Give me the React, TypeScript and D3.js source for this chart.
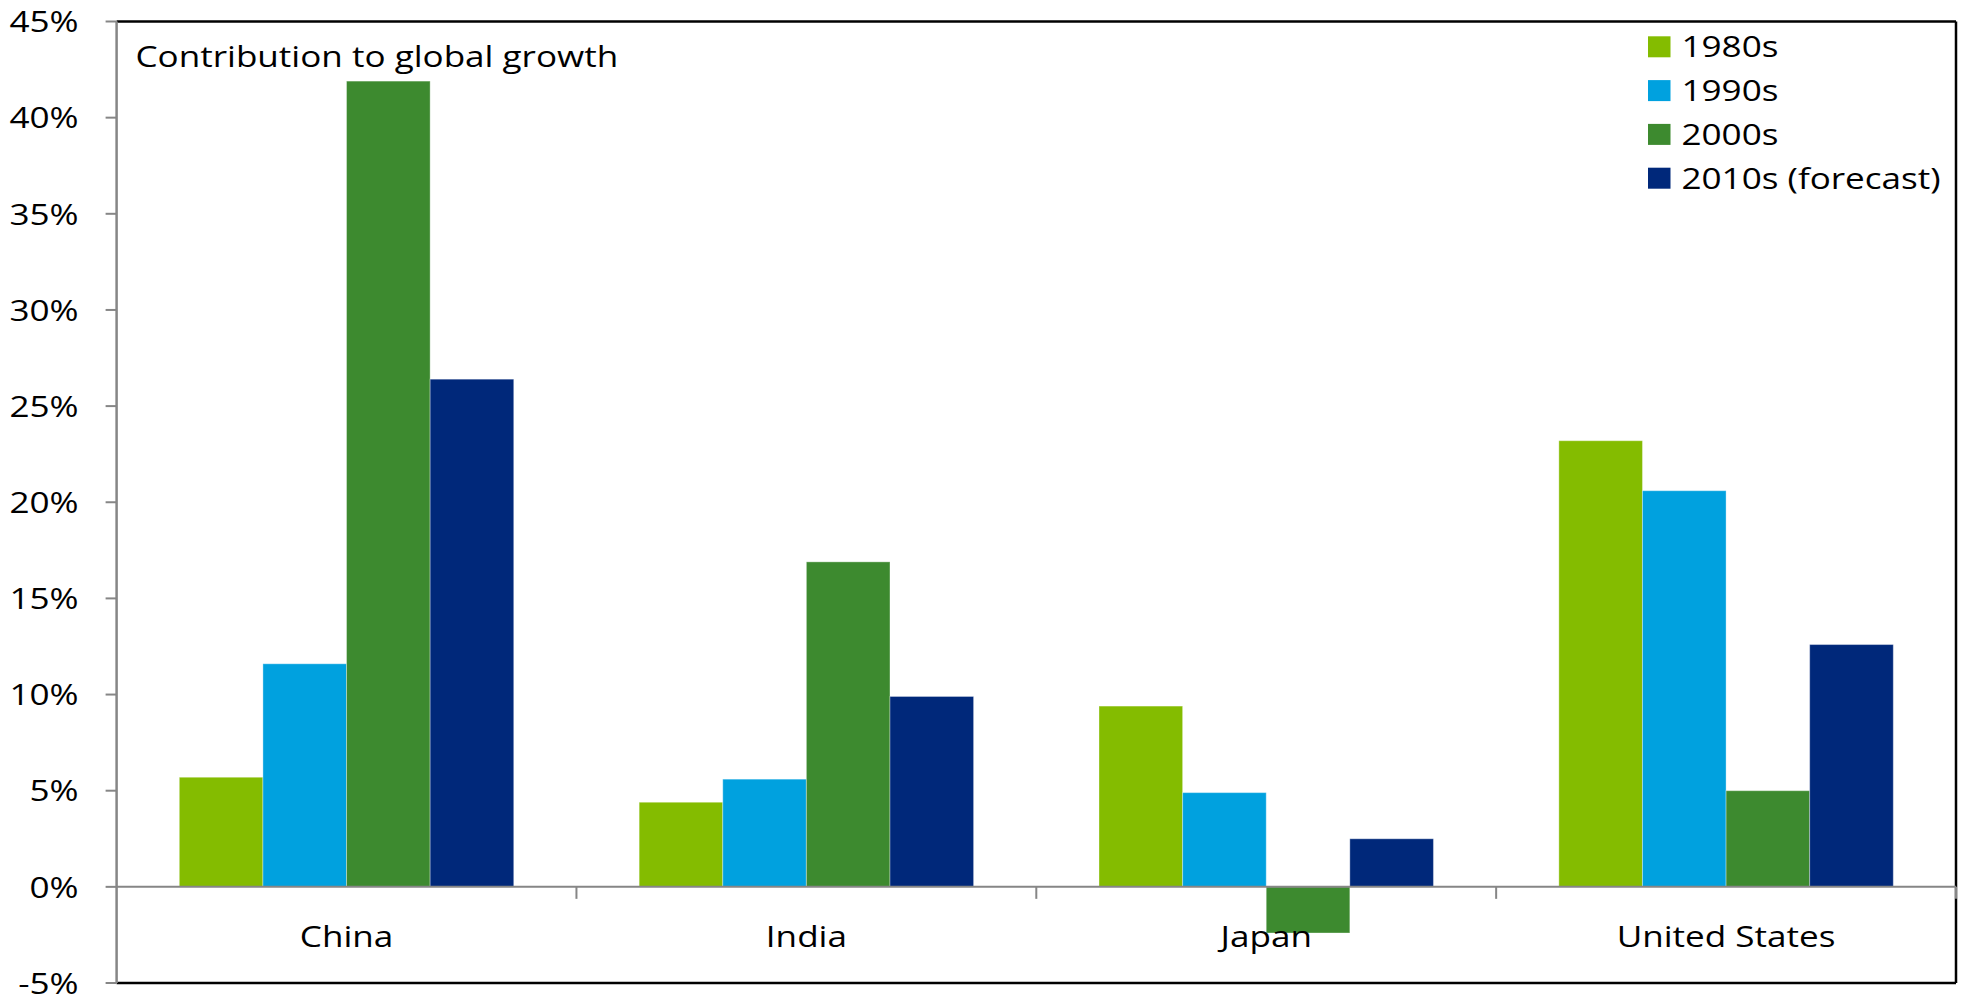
import React from "react";
import * as d3 from "d3";

const categories = ["China", "India", "Japan", "United States"];
const seriesNames = ["1980s", "1990s", "2000s", "2010s (forecast)"];
const seriesColors = ["#84BC00", "#00A1DF", "#3D8A2F", "#00287A"];
const v1980s = [5.7, 4.4, 9.4, 23.2];
const v1990s = [11.6, 5.6, 4.9, 20.6];
const v2000s = [41.9, 16.9, -2.4, 5.0];
const v2010s = [26.4, 9.9, 2.5, 12.6];
const yTicks = [-5, 0, 5, 10, 15, 20, 25, 30, 35, 40, 45];
const titleText = "Contribution to global growth";

const seriesValues = [v1980s, v1990s, v2000s, v2010s];

const W = 1966;
const H = 998;
const left = 116.6;
const right = 1956;
const top = 21.5;
const bottom = 983;
const FONT = "'Open Sans', sans-serif";
const FS = 30;
const SX = 1.17;

function T({ x, y, anchor = "start", children }: { x: number; y: number; anchor?: string; children: React.ReactNode }) {
  return (
    <text
      transform={`translate(${x},${y}) scale(${SX},1)`}
      textAnchor={anchor as any}
      fontFamily={FONT}
      fontSize={FS}
      fill="#000"
    >
      {children}
    </text>
  );
}

export default function App() {
  const x0 = d3.scaleBand<string>().domain(categories).range([left, right]).paddingInner(0).paddingOuter(0);
  const bw = x0.bandwidth();
  const pad = (bw * 0.75) / 5.5;
  const x1 = d3.scaleBand<string>().domain(seriesNames).range([pad, bw - pad]).padding(0);
  const y = d3.scaleLinear().domain([-5, 45]).range([bottom, top]);
  const y0 = y(0);

  const boundaries = categories.map((c) => (x0(c) as number) + bw);

  return (
    <svg width={W} height={H} style={{ position: "absolute", left: 0, top: 0, display: "block", background: "#fff" }}>
      <rect x={0} y={0} width={W} height={H} fill="#fff" />
      {/* bars */}
      {categories.map((c, ci) =>
        seriesNames.map((s, si) => {
          const v = seriesValues[si][ci];
          const bx = (x0(c) as number) + (x1(s) as number);
          const by = y(Math.max(0, v));
          const bh = Math.abs(y(v) - y0);
          return (
            <rect
              key={c + s}
              x={bx}
              y={by}
              width={x1.bandwidth()}
              height={bh}
              fill={seriesColors[si]}
              stroke="rgba(255,255,255,0.35)"
              strokeWidth={1}
            />
          );
        })
      )}
      {/* plot border */}
      <line x1={left} x2={right} y1={top} y2={top} stroke="#000" strokeWidth={2.5} />
      <line x1={right} x2={right} y1={top} y2={bottom} stroke="#000" strokeWidth={2.5} />
      <line x1={left} x2={right} y1={bottom} y2={bottom} stroke="#000" strokeWidth={2.5} />
      {/* zero line & category ticks */}
      <line x1={left} x2={right} y1={y0} y2={y0} stroke="#868686" strokeWidth={2} />
      {boundaries.map((b, i) => (
        <line key={i} x1={b} x2={b} y1={y0} y2={y0 + 12} stroke="#868686" strokeWidth={2} />
      ))}
      {/* y axis */}
      <line x1={left} x2={left} y1={top} y2={bottom} stroke="#868686" strokeWidth={2.5} />
      {yTicks.map((t) => (
        <g key={t}>
          <line x1={left - 11} x2={left} y1={y(t)} y2={y(t)} stroke="#868686" strokeWidth={2} />
          <T x={78.5} y={y(t) + 10.7} anchor="end">{`${t}%`}</T>
        </g>
      ))}
      {/* category labels */}
      {categories.map((c) => (
        <T key={c} x={(x0(c) as number) + bw / 2} y={946.5} anchor="middle">
          {c}
        </T>
      ))}
      {/* title */}
      <T x={135.5} y={66.5}>{titleText}</T>
      {/* legend */}
      {seriesNames.map((s, i) => {
        const base = 57.3 + i * 43.8;
        return (
          <g key={s}>
            <rect x={1648} y={base - 21} width={22.5} height={21} fill={seriesColors[i]} />
            <T x={1681.5} y={base}>{s}</T>
          </g>
        );
      })}
    </svg>
  );
}
